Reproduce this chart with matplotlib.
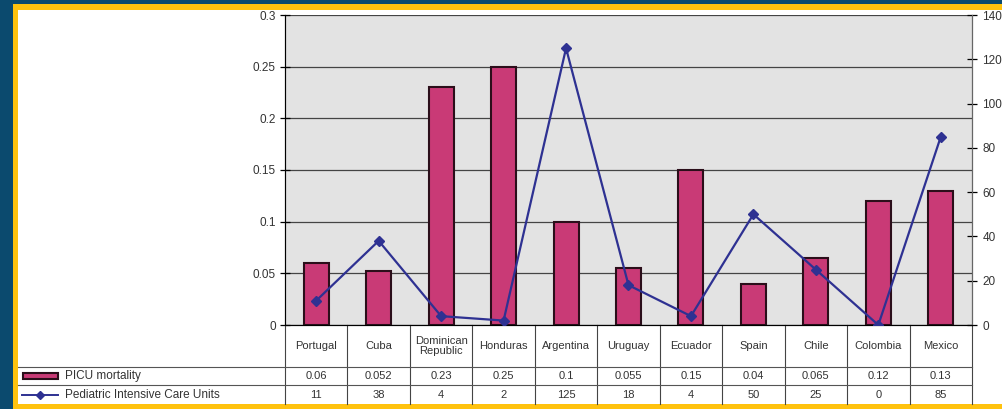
import numpy as np
import matplotlib
matplotlib.use("Agg")
from matplotlib import pyplot as plt
from matplotlib.patches import Rectangle
from matplotlib.lines import Line2D

plt.rcParams['font.family'] = ['Liberation Sans', 'DejaVu Sans']

# data
countries = ['Portugal', 'Cuba', 'Dominican\nRepublic', 'Honduras', 'Argentina', 'Uruguay',
             'Ecuador', 'Spain', 'Chile', 'Colombia', 'Mexico']
mortality = [0.06, 0.052, 0.23, 0.25, 0.1, 0.055, 0.15, 0.04, 0.065, 0.12, 0.13]
units = [11, 38, 4, 2, 125, 18, 4, 50, 25, 0, 85]
left_ticks = [0, 0.05, 0.1, 0.15, 0.2, 0.25, 0.3]
left_labels = ['0', '0.05', '0.1', '0.15', '0.2', '0.25', '0.3']
right_ticks = [0, 20, 40, 60, 80, 100, 120, 140]

W, H = 1002, 409
BAR_C = '#C93A76'
BAR_E = '#2B0E1A'
LINE_C = '#2E3192'
TXT = '#333333'
FS = 8.5

fig = plt.figure(figsize=(W / 100, H / 100), dpi=100)
fig.patch.set_facecolor('#0B4A6E')

# frame: yellow border then white card
fig.add_artist(Rectangle((13 / W, 0), 1, 1 - 4 / H, transform=fig.transFigure,
                         facecolor='#FFC20E', edgecolor='none', zorder=-10))
fig.add_artist(Rectangle((18 / W, 5 / H), 1, 1 - 15 / H, transform=fig.transFigure,
                         facecolor='white', edgecolor='none', zorder=-9))

ax = fig.add_axes([285 / W, 1 - 325 / H, 687 / W, 310 / H])
x = np.arange(len(countries))
ax.bar(x, mortality, width=0.4, color=BAR_C, edgecolor=BAR_E, linewidth=1.5, zorder=3)
ax.set_xlim(-0.5, len(countries) - 0.5)
ax.set_ylim(0, 0.3)
ax.set_facecolor('#E3E3E3')
ax.set_yticks(left_ticks)
ax.set_yticklabels(left_labels)
ax.yaxis.grid(True, color='#444444', linewidth=0.9)
ax.set_axisbelow(True)
ax.set_xticks([])
ax.tick_params(axis='y', direction='inout', length=7, width=0.9, labelsize=FS,
               labelcolor=TXT, pad=3)
ax.spines['top'].set_visible(False)
for s in ['left', 'right', 'bottom']:
    ax.spines[s].set_color('#333333')

ax2 = ax.twinx()
ax2.plot(x, units, color=LINE_C, marker='D', markersize=5.5, linewidth=1.6, zorder=4)
ax2.set_ylim(0, 140)
ax2.set_yticks(right_ticks)
ax2.tick_params(axis='y', direction='inout', length=7, width=0.9, labelsize=FS,
                labelcolor=TXT, pad=4)
ax2.spines['top'].set_visible(False)
ax2.spines['right'].set_color('#666666')

# data table under the plot
tr = ax.get_xaxis_transform()
h = 310
y1 = -(367 - 325) / h
y2 = -(385 - 325) / h
y3 = -(404 - 325) / h
for b in np.arange(-0.5, len(countries), 1.0):
    ax.add_line(Line2D([b, b], [0, y3], transform=tr, color='#444444', lw=0.8, clip_on=False))
for yy in [y1, y2]:
    fig.add_artist(Line2D([18 / W, 972 / W], [1 - (325 - yy * h) / H] * 2,
                          transform=fig.transFigure, color='#555555', lw=0.8))

for i, name in enumerate(countries):
    ax.text(i, y1 / 2, name, transform=tr, ha='center', va='center', fontsize=FS - 0.5,
            color=TXT, linespacing=1.0)
    ax.text(i, (y1 + y2) / 2, str(mortality[i]), transform=tr, ha='center', va='center',
            fontsize=FS - 0.5, color=TXT)
    ax.text(i, (y2 + y3) / 2, str(units[i]), transform=tr, ha='center', va='center',
            fontsize=FS - 0.5, color=TXT)

# row labels with legend keys
ry1 = 1 - 376 / H
ry2 = 1 - 394.5 / H
fig.add_artist(Rectangle((23 / W, ry1 - 3 / H), 35 / W, 6 / H, transform=fig.transFigure,
                         facecolor=BAR_C, edgecolor=BAR_E, lw=1.5))
fig.add_artist(Line2D([22 / W, 58 / W], [ry2, ry2], transform=fig.transFigure,
                      color=LINE_C, lw=1.4))
fig.add_artist(Line2D([40 / W], [ry2], transform=fig.transFigure, color=LINE_C,
                      marker='D', markersize=4))
fig.text(65 / W, ry1, 'PICU mortality', ha='left', va='center', fontsize=FS, color=TXT)
fig.text(65 / W, ry2, 'Pediatric Intensive Care Units', ha='left', va='center',
         fontsize=FS, color=TXT)

fig.savefig('out.png', dpi=100, facecolor=fig.get_facecolor())
